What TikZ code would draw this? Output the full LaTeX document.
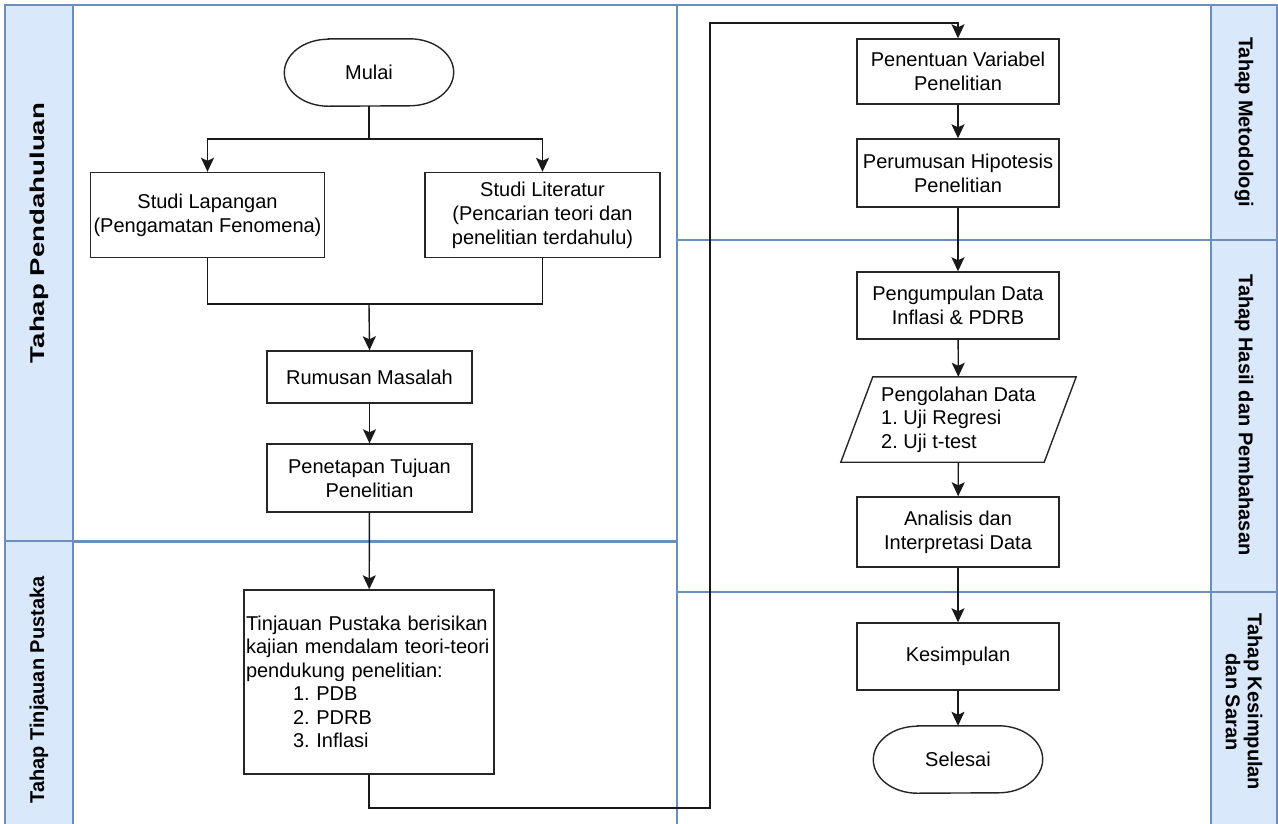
\documentclass[tikz,border=0pt]{standalone}
\usepackage{fontspec}
\setmainfont{Liberation Sans}
\usetikzlibrary{arrows.meta,calc}
\definecolor{laneblue}{HTML}{6C8EBF}
\definecolor{hdrblue}{HTML}{DAE8FC}
\frenchspacing
\begin{document}
\begin{tikzpicture}[x=1pt,y=-1pt,
  lane/.style={draw=laneblue,line width=1.5pt},
  hdr/.style={draw=laneblue,fill=hdrblue,line width=1.5pt},
  box/.style={draw=black!85,line width=1.4pt,fill=white,align=center,inner sep=2pt,font=\fontsize{20}{24}\selectfont},
  termtext/.style={align=center,inner sep=0pt,font=\fontsize{20}{24}\selectfont},
  arr/.style={line width=1.4pt,draw=black!90,-{Stealth[length=14pt,width=13pt,inset=3pt]}},
  ln/.style={line width=1.4pt,draw=black!90},
  outline/.style={line width=1.4pt,draw=black!85},
  lbl/.style={font=\bfseries\fontsize{20}{24}\selectfont,align=center,inner sep=0pt}
]
\useasboundingbox (0,0) rectangle (1278,823);
\fill[white] (0,0) rectangle (1278,823);

% pools and lanes
\draw[lane] (5,5) rectangle (677,840);
\draw[hdr] (5,5) rectangle (73,541);
\draw[hdr] (5,541) rectangle (73,840);
\draw[draw=laneblue,line width=3pt] (73,541) -- (677,541);

\draw[lane] (677,5) rectangle (1277,840);
\draw[hdr] (1211,5) rectangle (1277,240);
\draw[hdr] (1211,240) rectangle (1277,592);
\draw[hdr] (1211,592) rectangle (1277,840);
\draw[lane] (677,240) -- (1211,240);
\draw[lane] (677,592) -- (1211,592);

% lane labels
\node[lbl,rotate=90] (l1) at (39,233) {\scalebox{1.38}[1]{Tahap Pendahuluan}};
\node[lbl,rotate=90] (l2) at (39,690) {Tahap Tinjauan Pustaka};
\node[lbl,rotate=-90] (r1) at (1244,122) {Tahap Metodologi};
\node[lbl,rotate=-90] (r2) at (1244,415) {Tahap Hasil dan Pembahasan};
\node[lbl,rotate=-90,font=\bfseries\fontsize{20}{22}\selectfont] (r3) at (1244,702) {Tahap Kesimpulan\\dan Saran};

% left flow
\node[termtext,minimum width=169pt,minimum height=67pt] (mulai) at (369,72.5) {Mulai};
\draw[outline] ($(mulai.north west)+(44,0)$) -- ($(mulai.north east)+(-44,0)$)
  arc[start angle=90,end angle=-90,x radius=44pt,y radius=33.5pt]
  -- ($(mulai.south west)+(44,0)$)
  arc[start angle=270,end angle=90,x radius=44pt,y radius=33.5pt] -- cycle;
\node[box,minimum width=234pt,minimum height=85pt] (lap) at (207.5,215) {Studi Lapangan\\(Pengamatan Fenomena)};
\node[box,minimum width=235pt,minimum height=85pt] (lit) at (542.5,215) {Studi Literatur\\(Pencarian teori dan\\penelitian terdahulu)};
\node[box,minimum width=205pt,minimum height=52pt] (rum) at (369.5,377) {Rumusan Masalah};
\node[box,minimum width=205pt,minimum height=68pt] (pen) at (369.5,478) {Penetapan Tujuan\\Penelitian};
\node[box,minimum width=250pt,minimum height=184pt,text width=246pt,align=left,font=\fontsize{20}{23.5}\selectfont] (tin) at (369,682)
  {\makebox[246pt][s]{Tinjauan Pustaka berisikan}\\
   \makebox[246pt][s]{kajian mendalam teori-teori}\\
   pendukung penelitian:\\
   \hspace*{47pt}1. PDB\\
   \hspace*{47pt}2. PDRB\\
   \hspace*{47pt}3. Inflasi};

% right flow
\node[box,minimum width=202pt,minimum height=65pt] (var) at (958,71.5) {Penentuan Variabel\\Penelitian};
\node[box,minimum width=202pt,minimum height=68pt] (hip) at (958,173) {Perumusan Hipotesis\\Penelitian};
\node[box,minimum width=202pt,minimum height=67pt] (kum) at (958,305.5) {Pengumpulan Data\\Inflasi \& PDRB};
\node[minimum width=235pt,minimum height=85pt,inner sep=2pt,align=left,font=\fontsize{20}{23.5}\selectfont] (olah) at (958.5,419.5) {Pengolahan Data\\1. Uji Regresi\\2. Uji t-test};
\draw[outline] ($(olah.north west)+(32,0)$) -- (olah.north east) -- ($(olah.south east)+(-32,0)$) -- (olah.south west) -- cycle;
\node[box,minimum width=202pt,minimum height=70pt] (anl) at (958,532) {Analisis dan\\Interpretasi Data};
\node[box,minimum width=202pt,minimum height=67pt] (kes) at (958,656.5) {Kesimpulan};
\node[termtext,minimum width=169pt,minimum height=67pt] (sel) at (958,759.5) {Selesai};
\draw[outline] ($(sel.north west)+(44,0)$) -- ($(sel.north east)+(-44,0)$)
  arc[start angle=90,end angle=-90,x radius=44pt,y radius=33.5pt]
  -- ($(sel.south west)+(44,0)$)
  arc[start angle=270,end angle=90,x radius=44pt,y radius=33.5pt] -- cycle;

% connectors
\coordinate (split) at (369,139);
\coordinate (join) at (369,304);
\coordinate (b1) at (710,808);
\coordinate (b2) at (710,23);
\draw[ln] (mulai.south) -- (split);
\draw[arr] (split) -| (lap.north);
\draw[arr] (split) -| (lit.north);
\draw[ln] (lap.south) |- (join);
\draw[ln] (lit.south) |- (join);
\draw[arr] (join) -- (rum.north);
\draw[arr] (rum) -- (pen);
\draw[arr] (pen) -- (tin);
\draw[arr] (tin.south) |- (b1) -- (b2) -| (var.north);
\draw[arr] (var) -- (hip);
\draw[arr] (hip) -- (kum);
\draw[arr] (kum) -- (olah);
\draw[arr] (olah) -- (anl);
\draw[arr] (anl) -- (kes);
\draw[arr] (kes) -- (sel);
\end{tikzpicture}
\end{document}
